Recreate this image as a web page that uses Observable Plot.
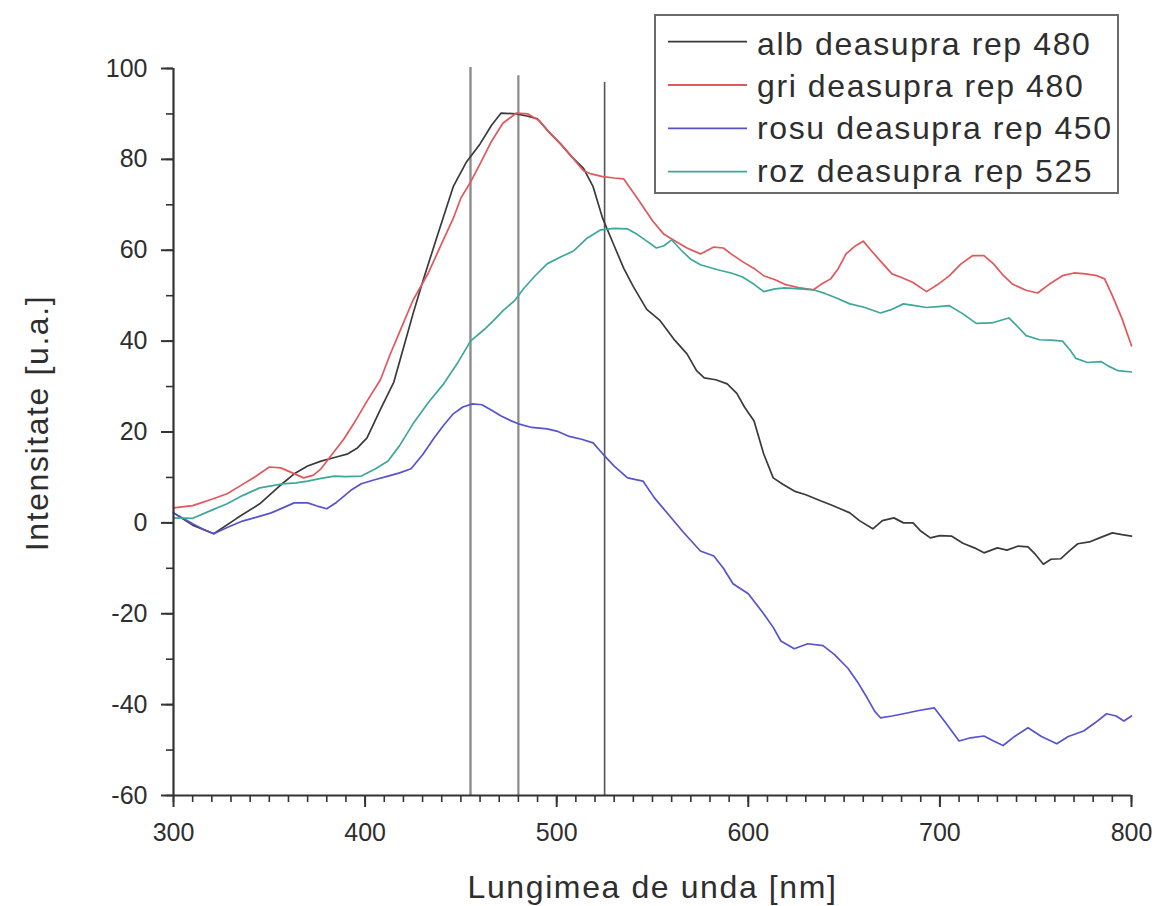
<!DOCTYPE html>
<html>
<head>
<meta charset="utf-8">
<script src="https://cdn.jsdelivr.net/npm/d3@7"></script>
<script src="https://cdn.jsdelivr.net/npm/@observablehq/plot@0.6"></script>
<style>
  body { margin: 0; background: #fff; }
  #wrap { position: relative; width: 1157px; height: 906px; }
  #wrap svg.legend { position: absolute; left: 0; top: 0; }
</style>
</head>
<body>
<div id="wrap"></div>
<script>
// ---------- data ----------
const seriesNames = ["alb deasupra rep 480", "gri deasupra rep 480", "rosu deasupra rep 450", "roz deasupra rep 525"];

// [wavelength nm, intensity u.a.]
const alb = [[300,2.2],[310,-0.5],[321,-2.4],[333,1],[345,4.2],[355,8],[363,10.8],[370,12.5],[377,13.6],[385,14.5],[391,15.2],[396,16.5],[401,18.7],[408,25],[415,31],[420,38.5],[425,46],[430,53],[438,63.6],[446,74],[453,79.5],[460,83.4],[466,87.5],[471,90.2],[479,90],[485,89.5],[490,88.9],[496,86],[502,83.4],[508,80.5],[514,78],[519,74],[524,67],[530,61],[535,56],[540,52],[547,47],[554,44.5],[561,40.5],[568,37.2],[573,33.5],[577,31.9],[583,31.5],[589,30.6],[594,28.5],[598,25.5],[603,22.4],[608,15.2],[613,9.9],[618,8.5],[624,7],[630,6.2],[638,4.8],[643,4],[648,3.1],[653,2.2],[658,0.5],[665,-1.3],[670,0.5],[676,1.1],[681,0],[686,0],[690,-1.8],[695,-3.3],[700,-2.8],[706,-2.9],[712,-4.5],[718,-5.5],[723,-6.6],[730,-5.5],[735,-6],[741,-5.1],[746,-5.3],[750,-7],[754,-9.1],[758,-8],[763,-7.9],[768,-6],[772,-4.6],[778,-4.2],[784,-3.2],[790,-2.2],[795,-2.6],[800,-2.9]];

const gri = [[300,3.3],[310,3.8],[320,5.2],[328,6.4],[335,8.2],[342,10],[350,12.3],[356,12.1],[362,11],[368,9.9],[373,10.5],[377,11.9],[383,15.2],[389,18.5],[394,21.8],[401,26.8],[408,31.5],[413,37],[420,44],[425,49],[433,55],[440,61.5],[446,67],[450,71.5],[455,75],[460,79],[466,84],[472,88],[479,90.2],[485,90],[491,88.5],[496,86],[502,83.4],[508,80.5],[514,77.5],[518,76.8],[524,76.2],[530,75.9],[535,75.7],[542,71.5],[550,66.5],[556,63.5],[562,62],[568,60.5],[575,59.2],[582,60.7],[587,60.5],[591,59.2],[597,57.5],[603,56],[608,54.4],[614,53.5],[619,52.5],[627,51.7],[634,51.3],[638,52.5],[643,53.7],[647,56],[651,59.2],[656,61],[660,62],[664,60],[669,57.6],[675,54.8],[680,54],[686,52.9],[693,50.9],[699,52.5],[705,54.4],[711,57],[717,58.8],[723,58.8],[728,57],[733,54.5],[738,52.5],[745,51.2],[751,50.6],[757,52.5],[764,54.4],[770,55],[776,54.8],[782,54.4],[786,53.7],[790,50],[795,45],[800,39]];

const rosu = [[300,2.2],[305,1],[310,-0.2],[316,-1.5],[321,-2.4],[328,-1],[336,0.4],[343,1.2],[351,2.2],[357,3.3],[363,4.4],[370,4.4],[375,3.7],[380,3.1],[385,4.5],[389,5.9],[393,7.3],[398,8.6],[405,9.5],[412,10.3],[418,11],[424,11.9],[430,15],[436,18.7],[441,21.5],[446,24],[451,25.5],[456,26.2],[461,26],[466,24.8],[471,23.5],[476,22.5],[480,21.8],[487,21],[495,20.7],[500,20.2],[506,19.1],[513,18.4],[519,17.6],[524,15.2],[530,12.5],[537,9.9],[545,9.2],[551,5.5],[558,2],[566,-2],[575,-6.2],[582,-7.3],[587,-10],[592,-13.4],[600,-15.6],[608,-20],[613,-23],[617,-26],[624,-27.7],[631,-26.6],[639,-27],[645,-29],[652,-32],[657,-35],[662,-38.5],[666,-41.5],[669,-42.9],[675,-42.5],[681,-42],[689,-41.3],[697,-40.7],[703,-44],[710,-48],[716,-47.3],[723,-46.9],[728,-48],[733,-49],[739,-47],[746,-45.1],[753,-47],[761,-48.6],[767,-47],[775,-45.8],[781,-44],[787,-42],[792,-42.5],[796,-43.6],[800,-42.5]];

const roz = [[300,1.1],[310,1],[320,2.8],[328,4.2],[336,6],[345,7.7],[357,8.6],[364,8.8],[370,9.2],[377,9.8],[384,10.3],[390,10.2],[398,10.3],[405,11.8],[412,13.6],[418,17],[425,21.8],[433,26.5],[441,30.6],[448,35],[455,40],[462,42.5],[467,44.5],[472,46.7],[478,48.9],[483,51.7],[489,54.5],[495,57],[502,58.5],[509,59.9],[516,62.7],[523,64.5],[530,64.8],[537,64.7],[542,63.5],[547,62],[552,60.5],[556,61],[560,62.3],[565,60],[570,58],[575,56.8],[584,55.7],[591,55],[597,54.1],[603,52.5],[608,50.9],[614,51.5],[619,51.7],[627,51.5],[634,51.3],[640,50.5],[646,49.5],[653,48.2],[660,47.5],[669,46.2],[675,47],[681,48.2],[687,47.8],[693,47.4],[699,47.6],[705,47.8],[712,46],[719,43.9],[727,44],[736,45.1],[741,43],[745,41.2],[752,40.3],[758,40.2],[764,40],[768,38],[771,36.2],[777,35.3],[784,35.5],[788,34.5],[793,33.5],[800,33.2]];

// vertical reference lines (wavelength, top value)
const markerWavelengths = [455, 480, 525];
const markerTops = [100.2, 98.4, 96.9];

const xMajorTicks = [300, 400, 500, 600, 700, 800];
const yMajorTicks = [-60, -40, -20, 0, 20, 40, 60, 80, 100];

// ---------- styles ----------
const seriesColors = ["#3a3a3a", "#e2575b", "#5753cf", "#3ea79c"];
const markerColors = ["#8c8c8c", "#8a8a8a", "#555555"];
const markerWidths = [2.4, 2.2, 1.6];
const FONT = "'Liberation Sans', Arial, Helvetica, sans-serif";
const TITLE_SIZE = 32;
const TITLE_SPACING = "1.6px";

const seriesData = [alb, gri, rosu, roz];

const chart = Plot.plot({
  width: 1157,
  height: 906,
  marginLeft: 173,
  marginRight: 26,
  marginTop: 68,
  marginBottom: 111,
  x: {domain: [300, 800]},
  y: {domain: [-60, 100]},
  style: {fontFamily: FONT, color: "#2e2e2e", background: "#fff", overflow: "visible"},
  marks: [
    ...markerWavelengths.map((w, i) =>
      Plot.ruleX([w], {x: d => d, y1: -60, y2: markerTops[i], stroke: markerColors[i], strokeWidth: markerWidths[i]})
    ),
    ...seriesData.map((pts, i) =>
      Plot.line(pts, {x: d => d[0], y: d => d[1], stroke: seriesColors[i], strokeWidth: 1.7, strokeLinejoin: "round"})
    ),
    // minor ticks
    Plot.axisX(d3.range(300, 801, 10), {tickSize: 7, tickFormat: () => "", label: null, strokeWidth: 1.6, stroke: "#333"}),
    Plot.axisY(d3.range(-60, 101, 10), {tickSize: 7, tickFormat: () => "", label: null, strokeWidth: 1.6, stroke: "#333"}),
    // major ticks
    Plot.axisX(xMajorTicks, {tickSize: 12, tickPadding: 16, fontSize: 25, label: null, strokeWidth: 2, stroke: "#333", tickFormat: d => String(d)}),
    Plot.axisY(yMajorTicks, {tickSize: 12, tickPadding: 14, fontSize: 25, label: null, strokeWidth: 2, stroke: "#333", tickFormat: d => String(d)}),
    // axis lines
    Plot.ruleX([300], {stroke: "#333", strokeWidth: 2.2}),
    Plot.ruleY([-60], {stroke: "#333", strokeWidth: 2.2}),
    // axis titles
    Plot.text(["Lungimea de unda [nm]"], {frameAnchor: "bottom", textAnchor: "middle", dy: 92, fontSize: TITLE_SIZE, lineAnchor: "middle", fill: "#2e2e2e"}),
    Plot.text(["Intensitate [u.a.]"], {frameAnchor: "left", textAnchor: "middle", dx: -136, dy: -9, rotate: -90, fontSize: TITLE_SIZE, lineAnchor: "middle", fill: "#2e2e2e"})
  ]
});

d3.select(chart).selectAll("text")
  .filter(function() { return this.textContent === "Lungimea de unda [nm]" || this.textContent === "Intensitate [u.a.]"; })
  .attr("letter-spacing", TITLE_SPACING);

const wrap = document.getElementById("wrap");
wrap.appendChild(chart);

// ---------- legend (overlay) ----------
const legend = d3.select(wrap).append("svg")
  .attr("class", "legend")
  .attr("width", 1157).attr("height", 200)
  .style("font-family", FONT);

legend.append("rect")
  .attr("x", 655).attr("y", 15).attr("width", 463).attr("height", 178)
  .attr("fill", "#fff").attr("stroke", "#6a6a6a").attr("stroke-width", 2);

const rows = legend.selectAll("g.row").data(seriesNames).join("g").attr("class", "row");
rows.append("line")
  .attr("x1", 668).attr("x2", 747)
  .attr("y1", (d, i) => 41.7 + 43.3 * i).attr("y2", (d, i) => 41.7 + 43.3 * i)
  .attr("stroke", (d, i) => seriesColors[i]).attr("stroke-width", 1.8);
rows.append("text")
  .attr("x", 757).attr("y", (d, i) => 55 + 42.2 * i)
  .attr("font-size", TITLE_SIZE).attr("letter-spacing", TITLE_SPACING).attr("fill", "#2e2e2e")
  .text(d => d);
</script>
</body>
</html>
